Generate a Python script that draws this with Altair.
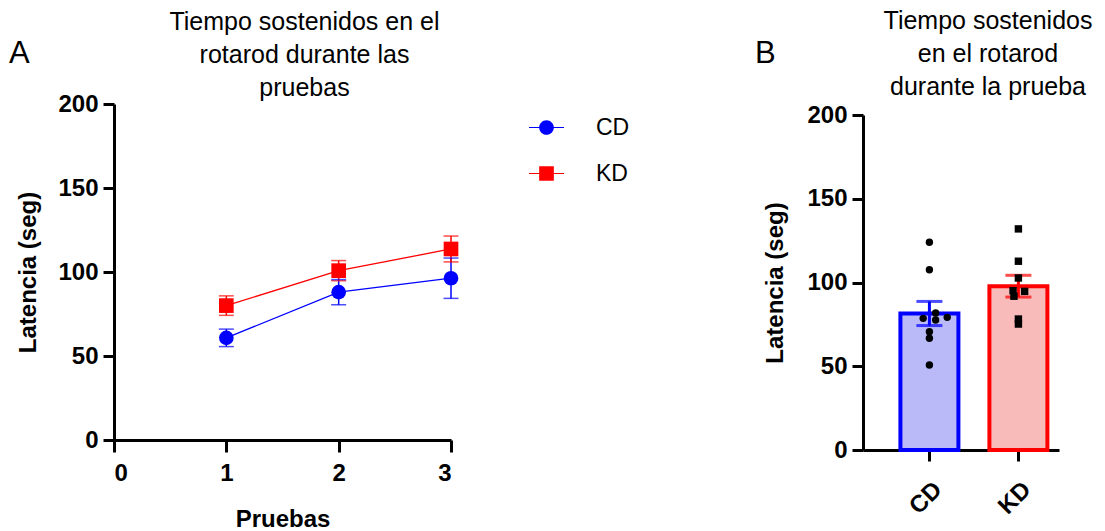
import altair as alt
import pandas as pd

FONT = "Liberation Sans"

# ---- Panel A data ----
trials = [1, 2, 3]
groups = ["CD", "KD"]
cd_mean = [60.8, 88.0, 96.3]
cd_sem = [5.2, 7.5, 12.0]
kd_mean = [80.0, 100.8, 113.7]
kd_sem = [5.8, 6.0, 7.7]

# ---- Panel B data ----
bar_mean = [81.5, 97.8]
bar_sem = [7.2, 6.5]
cd_points = [124, 107.6, 81.8, 78.6, 79.2, 77.6, 70.6, 66.7, 50.7]
cd_jitter = [0, 0, 0.07, -0.07, 0.2, 0.07, 0, 0, 0]
kd_points = [132, 112.7, 102.7, 95.1, 94.7, 91.8, 78.2, 75.2]
kd_jitter = [0, 0, 0, -0.06, 0.07, -0.05, 0, 0]

line_colors = ["#0000ff", "#ff0000"]
fill_colors = ["#babaf9", "#f9baba"]

# legend glyphs: short line with marker on it
legend_shapes = [
    "M-1,-0.025L1,-0.025L1,0.025L-1,0.025Z M0.42,0A0.42,0.42,0,1,1,-0.42,0A0.42,0.42,0,1,1,0.42,0Z",
    "M-1,-0.025L1,-0.025L1,0.025L-1,0.025Z M-0.42,-0.42L0.42,-0.42L0.42,0.42L-0.42,0.42Z",
]

axis_common = dict(
    domainColor="black", domainWidth=3, tickColor="black", tickWidth=3,
    labelFont=FONT, labelFontSize=24, labelFontWeight="bold", labelColor="black",
    titleFont=FONT, titleFontSize=24, titleFontWeight="bold", titleColor="black",
    grid=False,
)

dfA = pd.DataFrame({
    "trial": trials * 2,
    "mean": cd_mean + kd_mean,
    "sem": cd_sem + kd_sem,
    "group": ["CD"] * 3 + ["KD"] * 3,
})

color_scale = alt.Scale(domain=groups, range=line_colors)
shape_scale = alt.Scale(domain=groups, range=["circle", "square"])

xA = alt.X("trial:Q", scale=alt.Scale(domain=[0, 3], nice=False),
           axis=alt.Axis(values=[0, 1, 2, 3], format="d", title="Pruebas", titlePadding=22,
                         tickSize=12, labelPadding=9, **axis_common))
yA = alt.Y("mean:Q", scale=alt.Scale(domain=[0, 200], nice=False),
           axis=alt.Axis(values=[0, 50, 100, 150, 200], title="Latencia (seg)", titlePadding=17,
                         tickSize=11, labelPadding=5, **axis_common))


def grp_color():
    return alt.Color("group:N", scale=color_scale, legend=None)


baseA = alt.Chart(dfA).encode(x=xA)
lineA = baseA.mark_line(strokeWidth=1.3).encode(y=yA, color=grp_color())
errA = baseA.transform_calculate(lo="datum.mean - datum.sem", hi="datum.mean + datum.sem")
ruleA = errA.mark_rule(strokeWidth=1.5).encode(y="lo:Q", y2="hi:Q", color=grp_color())
tickLoA = errA.mark_tick(orient="horizontal", size=15, thickness=1.5).encode(y="lo:Q", color=grp_color())
tickHiA = errA.mark_tick(orient="horizontal", size=15, thickness=1.5).encode(y="hi:Q", color=grp_color())
pointA = baseA.mark_point(filled=True, size=215, opacity=1).encode(
    y=yA, color=grp_color(),
    shape=alt.Shape("group:N", scale=shape_scale, legend=None),
)
legend_cfg = alt.Legend(
    orient="none", legendX=415, legendY=6, title=None, padding=0,
    labelFont=FONT, labelFontSize=23, labelColor="black", labelOffset=32,
    symbolSize=1225, rowPadding=16, symbolOpacity=1, symbolStrokeWidth=0)
legendLayer = baseA.mark_point(filled=True, opacity=0).encode(
    y=yA,
    color=alt.Color("group:N", scale=color_scale, legend=legend_cfg),
    shape=alt.Shape("group:N", scale=alt.Scale(domain=groups, range=legend_shapes), legend=legend_cfg),
)

chartA = alt.layer(lineA, ruleA, tickLoA, tickHiA, pointA, legendLayer).resolve_scale(
    color="independent", shape="independent"
).properties(
    width=337, height=336,
    title=alt.TitleParams(
        text=["Tiempo sostenidos en el", "rotarod durante las", "pruebas"],
        font=FONT, fontSize=25, fontWeight="normal", anchor="middle", dx=22, frame="group",
        lineHeight=33, offset=-9, color="black"),
)
panelA = alt.vconcat(chartA, title=alt.TitleParams(
    "A", font=FONT, fontSize=31, fontWeight="normal", anchor="start", frame="bounds",
    baseline="alphabetic", offset=-84, dx=-8, color="black"))

# ---- Panel B ----
pos = [1, 2]
dfB = pd.DataFrame({"pos": pos, "group": groups, "mean": bar_mean, "sem": bar_sem})
dfP = pd.DataFrame({
    "x": [1 + j for j in cd_jitter] + [2 + j for j in kd_jitter],
    "val": cd_points + kd_points,
    "group": ["CD"] * len(cd_points) + ["KD"] * len(kd_points),
})
label_expr = "datum.value == 1 ? '%s' : '%s'" % (groups[0], groups[1])

HB = 346
xB = alt.X("pos:Q", scale=alt.Scale(domain=[0.31, 2.4], nice=False, zero=False),
           axis=alt.Axis(values=pos, labelExpr=label_expr, labelAngle=-45, title=None,
                         tickSize=11, labelPadding=16, **axis_common))
yB = alt.Y("mean:Q", scale=alt.Scale(domain=[0, 200], range=[HB, 11], nice=False),
           axis=alt.Axis(values=[0, 50, 100, 150, 200], title="Latencia (seg)", titlePadding=19,
                         tickSize=11, labelPadding=5, **axis_common))

bcolor = lambda: alt.Color("group:N", scale=alt.Scale(domain=groups, range=line_colors), legend=None)

baseB = alt.Chart(dfB).encode(x=xB)
bars = baseB.mark_bar(size=58, strokeWidth=4, orient="vertical").encode(
    y=yB,
    fill=alt.Fill("group:N", scale=alt.Scale(domain=groups, range=fill_colors), legend=None),
    stroke=alt.Stroke("group:N", scale=alt.Scale(domain=groups, range=line_colors), legend=None),
)
errB = baseB.transform_calculate(lo="datum.mean - datum.sem", hi="datum.mean + datum.sem")
ruleB = errB.mark_rule(strokeWidth=3).encode(y="lo:Q", y2="hi:Q", color=bcolor())
tickLoB = errB.mark_tick(orient="horizontal", size=26, thickness=3).encode(y="lo:Q", color=bcolor())
tickHiB = errB.mark_tick(orient="horizontal", size=26, thickness=3).encode(y="hi:Q", color=bcolor())
dotsB = alt.Chart(dfP).mark_point(filled=True, size=55, opacity=1, color="black").encode(
    x="x:Q", y="val:Q",
    shape=alt.Shape("group:N", scale=alt.Scale(domain=groups, range=["circle", "square"]), legend=None),
)

chartB = alt.layer(bars, ruleB, tickLoB, tickHiB, dotsB).properties(
    width=196, height=HB,
    title=alt.TitleParams(
        text=["Tiempo sostenidos", "en el rotarod", "durante la prueba"],
        font=FONT, fontSize=25, fontWeight="normal", anchor="middle", dx=27, frame="group",
        lineHeight=33, offset=3.5, color="black"),
)
panelB = alt.vconcat(chartB, title=alt.TitleParams(
    "B", font=FONT, fontSize=31, fontWeight="normal", anchor="start", frame="bounds",
    baseline="alphabetic", offset=-85, dx=-9, color="black"))

chart = alt.hconcat(panelA, panelB, spacing=124).resolve_scale(
    color="independent", shape="independent", fill="independent", stroke="independent",
    x="independent", y="independent",
).configure(font=FONT, padding={"left": 8, "top": 8, "right": 0, "bottom": 0}).configure_view(stroke=None)

chart.save("out.html", embed_options={"renderer": "svg", "actions": False})
